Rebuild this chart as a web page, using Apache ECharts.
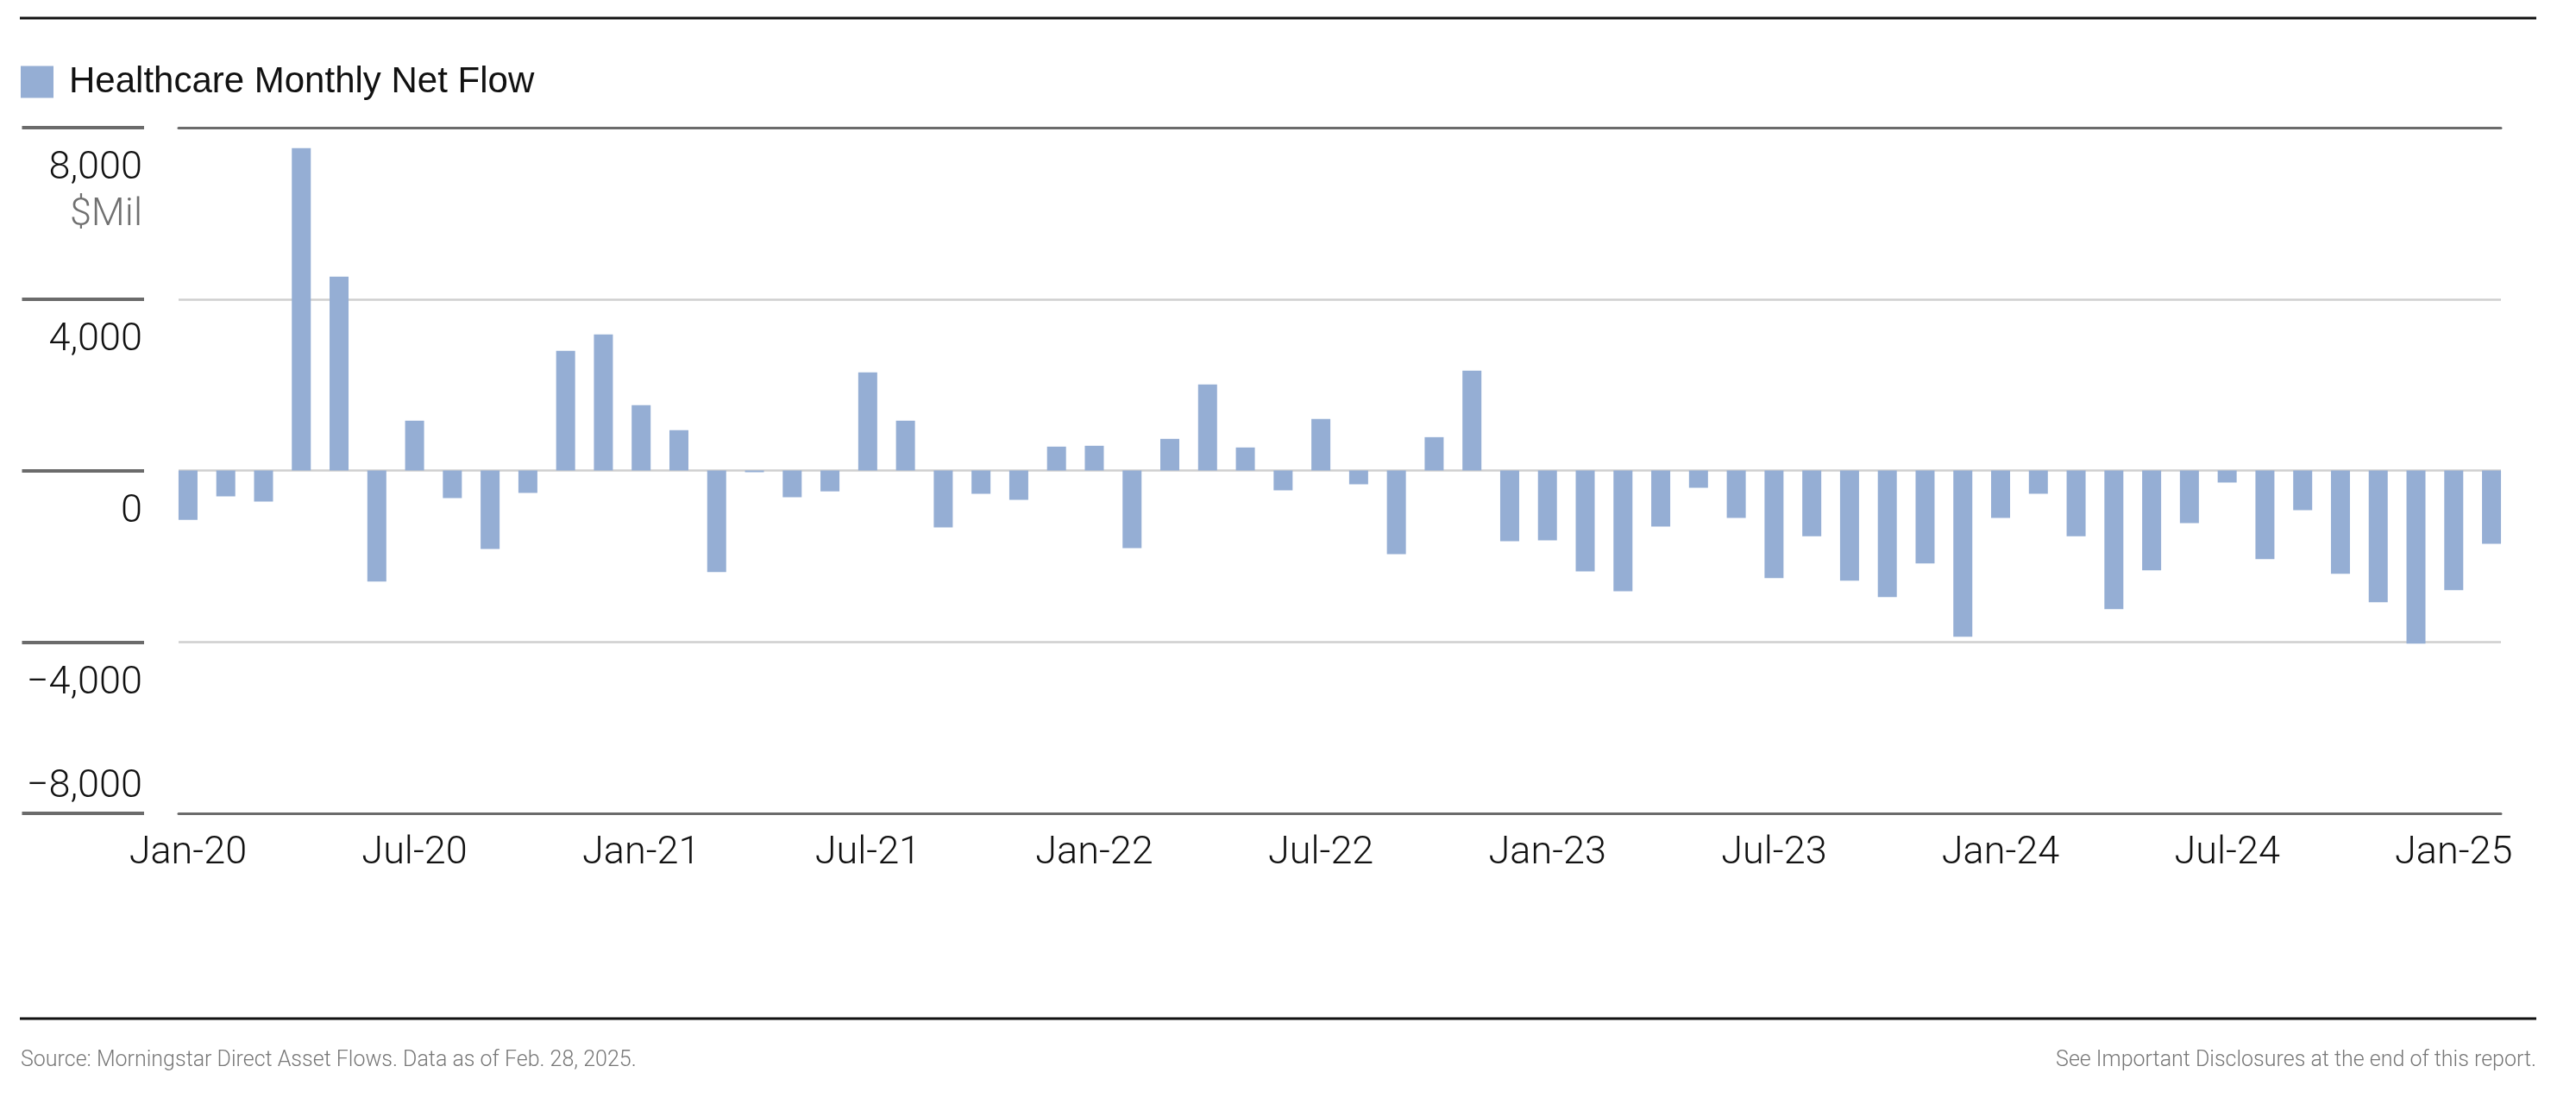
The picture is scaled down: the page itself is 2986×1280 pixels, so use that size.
<!DOCTYPE html>
<html>
<head>
<meta charset="utf-8">
<script src="https://cdn.jsdelivr.net/npm/echarts@6/dist/echarts.min.js"></script>
<style>
html,body{margin:0;padding:0;background:#ffffff;}
#chart{width:2986px;height:1280px;}
</style>
</head>
<body>
<div id="chart"></div>
<script>
// ---- data ----
const months = [
  'Jan-20','Feb-20','Mar-20','Apr-20','May-20','Jun-20','Jul-20','Aug-20','Sep-20','Oct-20','Nov-20','Dec-20',
  'Jan-21','Feb-21','Mar-21','Apr-21','May-21','Jun-21','Jul-21','Aug-21','Sep-21','Oct-21','Nov-21','Dec-21',
  'Jan-22','Feb-22','Mar-22','Apr-22','May-22','Jun-22','Jul-22','Aug-22','Sep-22','Oct-22','Nov-22','Dec-22',
  'Jan-23','Feb-23','Mar-23','Apr-23','May-23','Jun-23','Jul-23','Aug-23','Sep-23','Oct-23','Nov-23','Dec-23',
  'Jan-24','Feb-24','Mar-24','Apr-24','May-24','Jun-24','Jul-24','Aug-24','Sep-24','Oct-24','Nov-24','Dec-24',
  'Jan-25','Feb-25'
];
const netFlow = [
  -1150, -604, -725, 7523, 4523, -2593, 1161, -644, -1829, -523,
  2792, 3174, 1523, 940, -2372, -40, -624, -487, 2288, 1161,
  -1329, -544, -685, 557, 577, -1811, 738, 2007, 537, -463,
  1201, -322, -1950, 778, 2329, -1649, -1629, -2355, -2818, -1308,
  -403, -1107, -2513, -1534, -2573, -2955, -2171, -3879, -1106, -543,
  -1534, -3236, -2332, -1226, -281, -2070, -925, -2412, -3075, -4040,
  -2794, -1709
];
const xLabelIndex = [0, 6, 12, 18, 24, 30, 36, 42, 48, 54, 60];
const yTickValues = [-8000, -4000, 0, 4000, 8000];
const yTickLabels = ['\u22128,000', '\u22124,000', '0', '4,000', '8,000'];
const seriesName = 'Healthcare Monthly Net Flow';
const unitLabel = '$Mil';
const sourceText = 'Source: Morningstar Direct Asset Flows. Data as of Feb. 28, 2025.';
const disclosureText = 'See Important Disclosures at the end of this report.';

// ---- styles ----
const TICK_FONT = 'Roboto, "Liberation Sans", sans-serif';
const LEG_FONT = '"Liberation Sans", Arial, sans-serif';
const DARK = '#6b6b6b';
const LIGHT = '#cfcfcf';
const BAR = '#95aed4';

function yLabel(v) {
  const i = yTickValues.indexOf(v);
  return i < 0 ? '' : yTickLabels[i];
}

const chart = echarts.init(document.getElementById('chart'), null, {renderer: 'canvas', width: 2986, height: 1280});
const option = {
  backgroundColor: '#ffffff',
  animation: false,
  legend: {
    left: 24, top: 74, padding: 0,
    icon: 'rect', itemWidth: 38, itemHeight: 37,
    selectedMode: false,
    data: [seriesName],
    textStyle: {fontFamily: LEG_FONT, fontSize: 42, color: '#111111', padding: [8, 0, 0, 13]}
  },
  grid: {left: 207, right: 87, top: 148, bottom: 337, containLabel: false, outerBoundsMode: 'none'},
  xAxis: [
    {
      type: 'value', min: -0.25, max: 61.25, position: 'bottom',
      axisLine: {show: true, onZero: false, lineStyle: {color: DARK, width: 3}},
      axisTick: {show: false},
      splitLine: {show: false},
      axisLabel: {
        customValues: xLabelIndex,
        formatter: v => months[Math.round(v)] || '',
        margin: 21, fontFamily: TICK_FONT, fontWeight: 300, fontSize: 45, lineHeight: 52, color: '#111111'
      }
    },
    {
      type: 'value', min: -0.25, max: 61.25, position: 'top',
      axisLine: {show: true, onZero: false, lineStyle: {color: DARK, width: 3}},
      axisTick: {show: false}, axisLabel: {show: false}, splitLine: {show: false}
    }
  ],
  yAxis: [
    {
      type: 'value', min: -8000, max: 8000, interval: 4000, position: 'left', offset: 40,
      axisLine: {show: false, onZero: false},
      axisTick: {show: true, length: 141.5, lineStyle: {color: DARK, width: 4}},
      splitLine: {show: true, lineStyle: {color: ['rgba(0,0,0,0)', LIGHT, LIGHT, LIGHT, 'rgba(0,0,0,0)'], width: 2.5}},
      axisLabel: {
        verticalAlign: 'top', align: 'right', padding: [21, 0, 0, 0], margin: 2,
        fontFamily: TICK_FONT, fontWeight: 300, fontSize: 45, lineHeight: 54, color: '#111111',
        formatter: function (v) {
          if (v === -8000) return '';
          if (v === 8000) return yLabel(v) + '\n{u|' + unitLabel + '}';
          return yLabel(v);
        },
        rich: {u: {fontFamily: TICK_FONT, fontWeight: 300, fontSize: 45, lineHeight: 54, color: '#707070'}}
      }
    },
    {
      type: 'value', min: -8000, max: 8000, interval: 4000, position: 'left', offset: 40,
      axisLine: {show: false, onZero: false}, axisTick: {show: false}, splitLine: {show: false},
      axisLabel: {
        verticalAlign: 'bottom', align: 'right', padding: [0, 0, 3, 0], margin: 2,
        fontFamily: TICK_FONT, fontWeight: 300, fontSize: 45, lineHeight: 54, color: '#111111',
        formatter: v => (v === -8000 ? yLabel(v) : '')
      }
    }
  ],
  series: [{
    name: seriesName, type: 'bar', xAxisIndex: 0, yAxisIndex: 0,
    barWidth: 22,
    itemStyle: {color: BAR},
    data: netFlow.map((v, i) => [i, v])
  }],
  graphic: [
    {type: 'line', shape: {x1: 23, y1: 21, x2: 2940, y2: 21}, style: {stroke: '#111111', lineWidth: 3}},
    {type: 'line', shape: {x1: 23, y1: 1181, x2: 2940, y2: 1181}, style: {stroke: '#111111', lineWidth: 3}},
    {type: 'text', x: 24, y: 1230, style: {text: sourceText, fontFamily: TICK_FONT, fontWeight: 300, fontSize: 25, fill: '#777777', align: 'left', verticalAlign: 'middle'}},
    {type: 'text', x: 2940, y: 1230, style: {text: disclosureText, fontFamily: TICK_FONT, fontWeight: 300, fontSize: 25, fill: '#777777', align: 'right', verticalAlign: 'middle'}}
  ]
};
chart.setOption(option);
</script>
</body>
</html>
